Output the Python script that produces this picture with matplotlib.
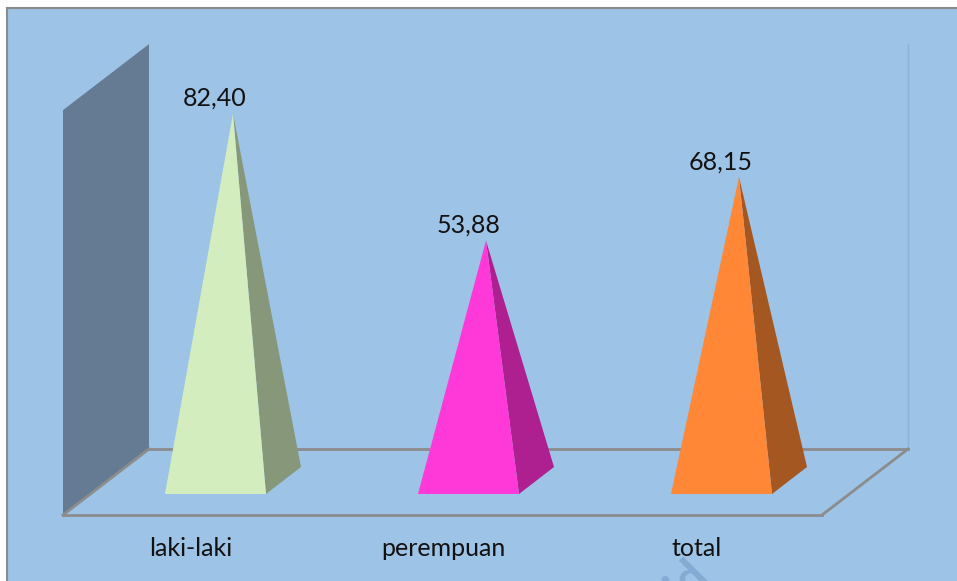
import matplotlib
matplotlib.use('Agg')
import matplotlib.pyplot as plt
from matplotlib.patches import Polygon

# chart values
categories = ['laki-laki', 'perempuan', 'total']
values = [82.40, 53.88, 68.15]
value_labels = ['82,40', '53,88', '68,15']

front_colors = ['#D3EDBF', '#FF38D8', '#FF8736']
side_colors = ['#87987A', '#AE2090', '#A55722']

W, H = 957, 581
PANEL_L, PANEL_T = 7, 8
BG = '#9DC3E6'

fig = plt.figure(figsize=(W / 100, H / 100), dpi=100, facecolor='white')
ax = fig.add_axes([PANEL_L / W, 0, 1 - PANEL_L / W, 1 - PANEL_T / H])

# category scale: 253 px per category, first one at x=233
# value scale: 4.453 px per unit, zero at y=480
PX_CAT = 253.0
PX_VAL = 4.453
ax.set_xlim((PANEL_L - 233) / PX_CAT, (W - 233) / PX_CAT)
ax.set_ylim((480.5 - H) / PX_VAL, (480.5 - PANEL_T) / PX_VAL)
ax.set_facecolor(BG)
ax.set_xticks([])
ax.set_yticks([])
for side in ['right', 'bottom']:
    ax.spines[side].set_visible(False)
for side in ['left', 'top']:
    ax.spines[side].set_color('#8C8C8C')
    ax.spines[side].set_linewidth(1.5)

half_w = 50.5 / PX_CAT
dx = 17.5 / PX_CAT
dy = 13.5 / PX_VAL

# floor and wall of the 3d box
left = (63 + 43 - 233) / PX_CAT
right = (822 + 43 - 233) / PX_CAT
box_dx = 43 / PX_CAT
box_dy = 33 / PX_VAL
mid_y = (480.5 - 482) / PX_VAL
top = 98.0

wall = Polygon([(left - box_dx, mid_y - box_dy), (left + box_dx, mid_y + box_dy),
                (left + box_dx, top), (left - box_dx, top - 2 * box_dy)],
               closed=True, facecolor='#647B93', edgecolor='none', zorder=2)
ax.add_patch(wall)

line_kw = dict(color='#8C8C8C', lw=2, zorder=3)
ax.plot([left - box_dx, right - box_dx], [mid_y - box_dy] * 2, **line_kw)
ax.plot([left + box_dx, right + box_dx], [mid_y + box_dy] * 2, **line_kw)
ax.plot([left - box_dx, left + box_dx], [mid_y - box_dy, mid_y + box_dy], **line_kw)
ax.plot([right - box_dx, right + box_dx], [mid_y - box_dy, mid_y + box_dy], **line_kw)
ax.plot([right + box_dx] * 2, [mid_y + box_dy, top], color='#8FB3D6', lw=1, zorder=1)

for i, v in enumerate(values):
    front = [(i - dx - half_w, -dy), (i - dx + half_w, -dy), (i, v)]
    side_face = [(i - dx + half_w, -dy), (i + dx + half_w, dy), (i, v)]
    ax.add_patch(Polygon(side_face, closed=True, facecolor=side_colors[i], edgecolor='none', zorder=4))
    ax.add_patch(Polygon(front, closed=True, facecolor=front_colors[i], edgecolor='none', zorder=5))
    ax.text(i - 18 / PX_CAT, v + 3.5 / PX_VAL, value_labels[i], ha='center', va='bottom',
            fontsize=18, family='Lato', color='#111111', zorder=6)
    ax.text(i - 42.5 / PX_CAT, (480.5 - 548) / PX_VAL, categories[i], ha='center', va='center',
            fontsize=18, family='Lato', color='#111111', zorder=6)

# faint watermark cut off by the bottom edge
ax.text((688 - 233) / PX_CAT, (480.5 - 581) / PX_VAL, 'id', rotation=45, ha='center', va='center',
        fontsize=34, fontweight='bold', family='Lato', color='#83ABD3', zorder=1, clip_on=True)

fig.savefig('out.png', dpi=100)
